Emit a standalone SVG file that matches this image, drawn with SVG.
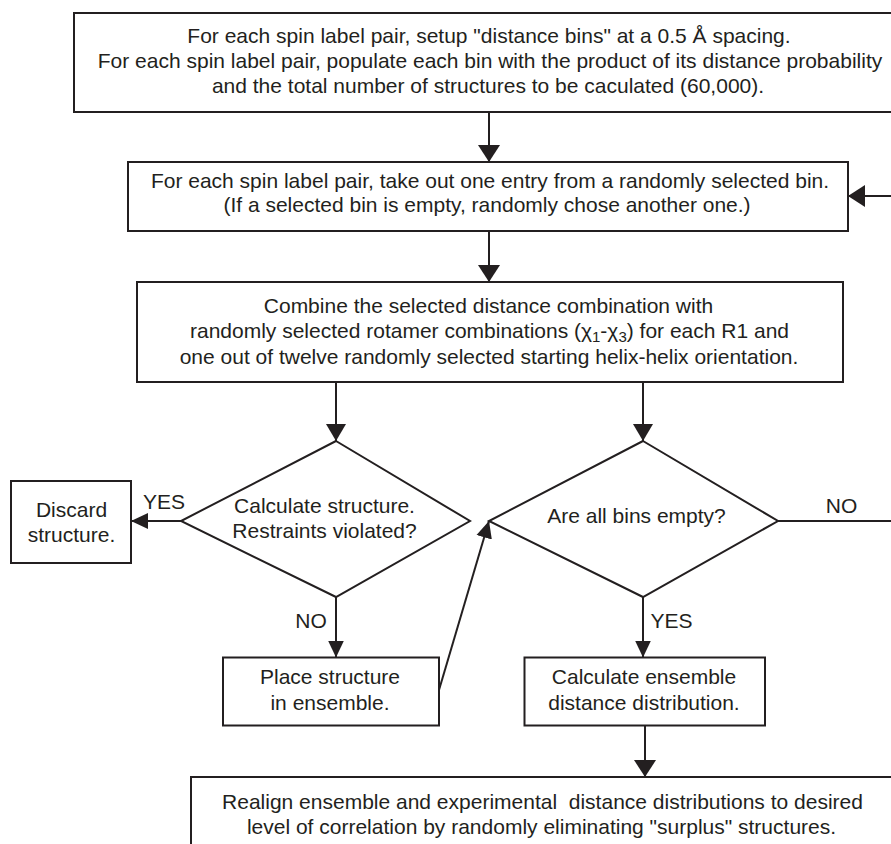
<svg xmlns="http://www.w3.org/2000/svg" width="891" height="844" viewBox="0 0 891 844">
<style>
.box{fill:#fff;stroke:#231f20;stroke-width:2}
.ln{fill:none;stroke:#231f20;stroke-width:2}
text{font-family:"Liberation Sans",Arial,sans-serif;font-size:21px;fill:#231f20;text-anchor:middle}
</style>
<defs>
<marker id="big" markerUnits="userSpaceOnUse" markerWidth="18" markerHeight="24" viewBox="0 0 18 24" refX="17" refY="12" orient="auto"><path d="M0,1 L17,12 L0,23 Z" fill="#231f20"/></marker>
<marker id="mid" markerUnits="userSpaceOnUse" markerWidth="18" markerHeight="22" viewBox="0 0 18 22" refX="17" refY="11" orient="auto"><path d="M0,1 L17,11 L0,21 Z" fill="#231f20"/></marker>
<marker id="small" markerUnits="userSpaceOnUse" markerWidth="18" markerHeight="18" viewBox="0 0 18 18" refX="17" refY="9" orient="auto"><path d="M0,1 L17,9 L0,17 Z" fill="#231f20"/></marker>
</defs>
<rect width="891" height="844" fill="#fff"/>
<g id="connectors">
<line class="ln" x1="489" y1="112" x2="489" y2="162" marker-end="url(#big)"/>
<line class="ln" x1="891" y1="196" x2="848" y2="196" marker-end="url(#big)"/>
<line class="ln" x1="489" y1="231" x2="489" y2="282" marker-end="url(#big)"/>
<line class="ln" x1="336" y1="382" x2="336" y2="441" marker-end="url(#mid)"/>
<line class="ln" x1="643" y1="382" x2="643" y2="441" marker-end="url(#mid)"/>
<line class="ln" x1="181" y1="521" x2="131" y2="521" marker-end="url(#small)"/>
<line class="ln" x1="336" y1="597" x2="336" y2="657.5" marker-end="url(#small)"/>
<line class="ln" x1="643" y1="597" x2="643" y2="657.5" marker-end="url(#small)"/>
<line class="ln" x1="439" y1="690" x2="489" y2="521" marker-end="url(#small)"/>
<line class="ln" x1="778" y1="521" x2="891" y2="521"/>
<line class="ln" x1="645" y1="726" x2="645" y2="777" marker-end="url(#big)"/>
<text x="164" y="509">YES</text>
<text x="841.5" y="513">NO</text>
<text x="311" y="628">NO</text>
<text x="671.5" y="628">YES</text>
</g>
<g id="setup">
<rect class="box" x="74" y="13" width="830" height="99"/>
<text x="489" y="43">For each spin label pair, setup "distance bins" at a 0.5 Å spacing.</text>
<text x="490" y="68">For each spin label pair, populate each bin with the product of its distance probability</text>
<text x="488" y="93">and the total number of structures to be caculated (60,000).</text>
</g>
<g id="select">
<rect class="box" x="128" y="162" width="720" height="69"/>
<text x="490" y="188">For each spin label pair, take out one entry from a randomly selected bin.</text>
<text x="487" y="212">(If a selected bin is empty, randomly chose another one.)</text>
</g>
<g id="combine">
<rect class="box" x="137" y="282" width="706" height="100"/>
<text x="488.5" y="313">Combine the selected distance combination with</text>
<text x="489.5" y="338">randomly selected rotamer combinations (χ<tspan font-size="15" dy="4">1</tspan><tspan dy="-4">-χ</tspan><tspan font-size="15" dy="4">3</tspan><tspan dy="-4">) for each R1 and</tspan></text>
<text x="489" y="364">one out of twelve randomly selected starting helix-helix orientation.</text>
</g>
<g id="violated">
<polygon class="box" points="336,441 470,521 336,597 181,521"/>
<text x="324.5" y="513">Calculate structure.</text>
<text x="324.5" y="538">Restraints violated?</text>
</g>
<g id="discard">
<rect class="box" x="11" y="481" width="120" height="82"/>
<text x="71.5" y="517">Discard</text>
<text x="71.5" y="542">structure.</text>
</g>
<g id="empty">
<polygon class="box" points="643,441 778,521 643,597 489,521"/>
<text x="636.5" y="523">Are all bins empty?</text>
</g>
<g id="place">
<rect class="box" x="223" y="657.5" width="216" height="68"/>
<text x="330" y="684">Place structure</text>
<text x="330" y="710">in ensemble.</text>
</g>
<g id="calc">
<rect class="box" x="524.5" y="657.5" width="240.5" height="68"/>
<text x="644" y="684">Calculate ensemble</text>
<text x="644" y="710">distance distribution.</text>
</g>
<g id="realign">
<rect class="box" x="191" y="777" width="720" height="100"/>
<text x="542.5" y="809" xml:space="preserve">Realign ensemble and experimental  distance distributions to desired</text>
<text x="541.5" y="834">level of correlation by randomly eliminating "surplus" structures.</text>
</g>
</svg>
